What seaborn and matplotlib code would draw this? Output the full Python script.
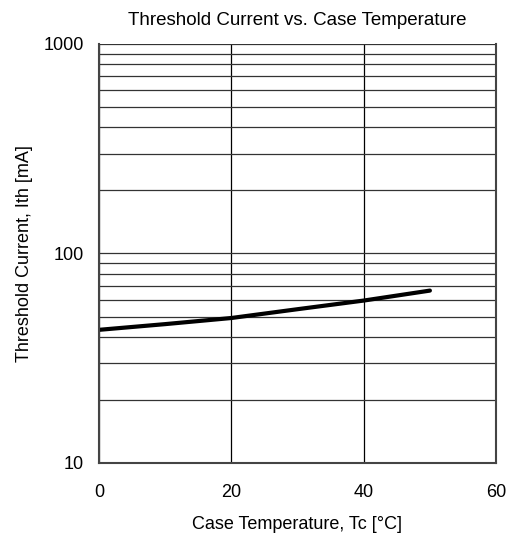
import matplotlib
matplotlib.use("Agg")
import matplotlib.pyplot as plt
import matplotlib.ticker as mticker
import pandas as pd
import seaborn as sns

# data
case_temp = [0, 10, 20, 30, 40, 50]
threshold_ma = [43.2, 46.0, 49.2, 54.2, 59.6, 66.5]

sns.set_style("white")
plt.rcParams["font.family"] = ["Liberation Sans", "DejaVu Sans"]
plt.rcParams["text.color"] = "black"
plt.rcParams["axes.labelcolor"] = "black"
plt.rcParams["xtick.labelcolor"] = "black"
plt.rcParams["ytick.labelcolor"] = "black"

df = pd.DataFrame({"Tc": case_temp, "Ith": threshold_ma})

fig = plt.figure(figsize=(5.12, 5.4), dpi=100)
ax = fig.add_axes([0.193, 0.1426, 0.776, 0.776])

sns.lineplot(data=df, x="Tc", y="Ith", color="black", linewidth=3, ax=ax)

ax.set_yscale("log")
ax.set_xlim(0, 60)
ax.set_ylim(10, 1000)

ax.xaxis.set_major_locator(mticker.MultipleLocator(20))
ax.xaxis.set_minor_locator(mticker.MultipleLocator(10))
ax.yaxis.set_major_locator(mticker.FixedLocator([10, 100, 1000]))
ax.yaxis.set_major_formatter(mticker.FixedFormatter(["10", "100", "1000"]))
ax.yaxis.set_minor_locator(mticker.LogLocator(base=10, subs=range(2, 10)))
ax.yaxis.set_minor_formatter(mticker.NullFormatter())

ax.grid(True, which="major", axis="x", color="black", linewidth=0.9)
ax.grid(True, which="both", axis="y", color="#333333", linewidth=0.9)

ax.tick_params(axis="both", which="major", direction="in", length=5,
               labelsize=13, color="#333333")
ax.tick_params(axis="y", which="major", pad=11)
ax.tick_params(axis="x", which="major", pad=15)
ax.tick_params(axis="x", which="minor", direction="in", length=5, color="#333333")
ax.tick_params(axis="y", which="minor", length=0)

for side in ["left", "bottom", "right"]:
    ax.spines[side].set_color("#444444")
    ax.spines[side].set_linewidth(1.5)
ax.spines["top"].set_visible(False)

ax.set_title("Threshold Current vs. Case Temperature", fontsize=13.5, pad=14)
ax.set_xlabel("Case Temperature, Tc [°C]", fontsize=13, labelpad=11)
ax.set_ylabel("Threshold Current, Ith [mA]", fontsize=13, labelpad=7)

fig.savefig("out.png", dpi=100)
